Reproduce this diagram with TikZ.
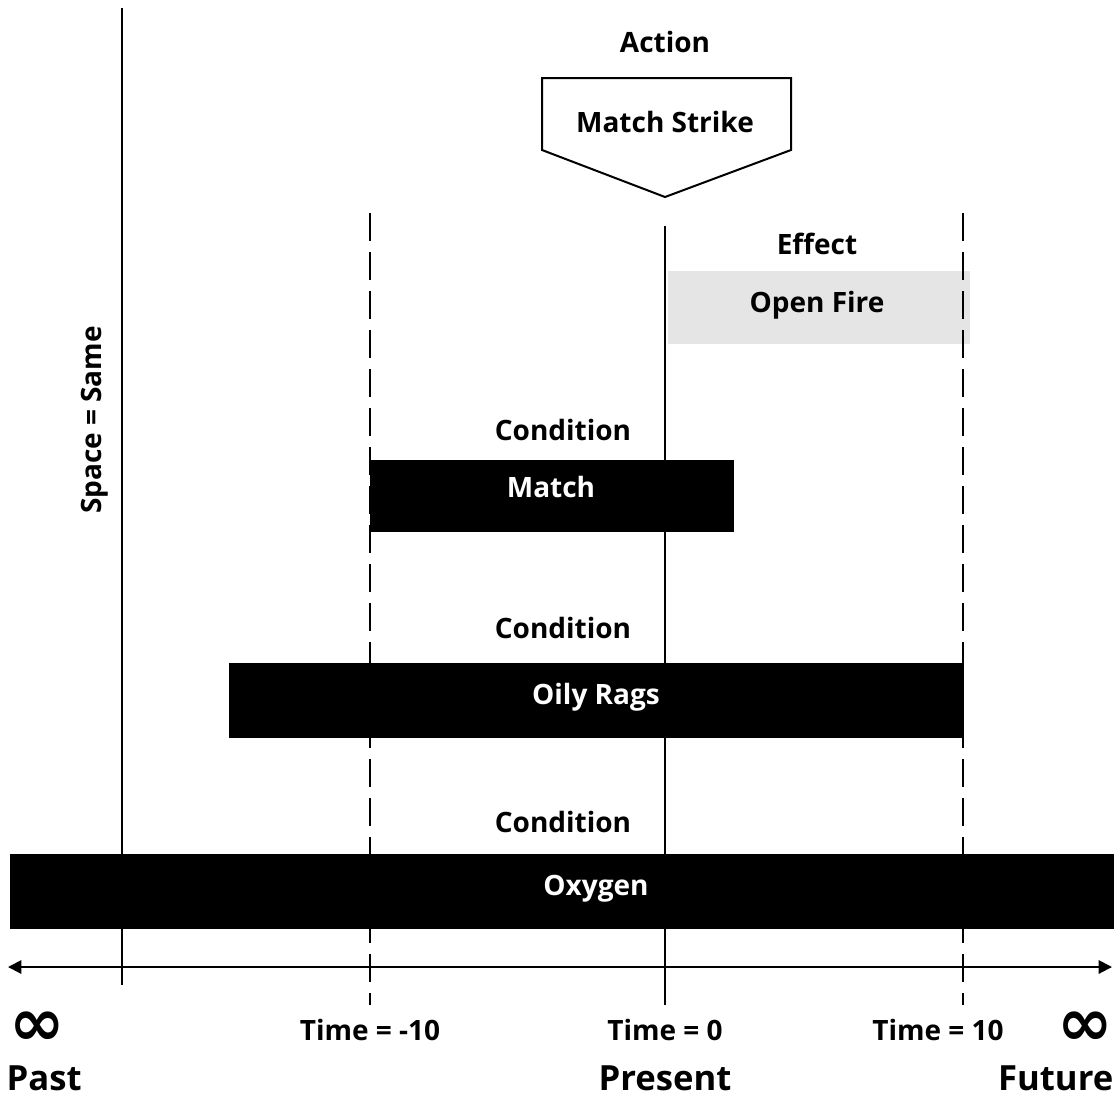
\documentclass[tikz,border=0pt]{standalone}
\usepackage{fontspec}
\setmainfont{Open Sans}
\newfontfamily\symfont{DejaVu Sans}
\usetikzlibrary{arrows.meta}

\tikzset{
  lbl/.style={font=\bfseries\fontsize{21}{24}\selectfont},
  bigword/.style={font=\bfseries\fontsize{26}{30}\selectfont},
  barlbl/.style={lbl, text=white},
  dashline/.style={line width=1.5pt, dash pattern=on 21pt off 8.25pt},
  solidline/.style={line width=1.5pt},
  inf/.style={font=\symfont\bfseries\fontsize{50}{54}\selectfont, inner sep=0pt}
}

\begin{document}
\begin{tikzpicture}[x=0.75pt,y=-0.75pt]
\useasboundingbox (0,0) rectangle (1114,1097);

% time marks
\coordinate (past) at (8,967);
\coordinate (future) at (1112,967);

% bars
\fill[black!10] (668,271) rectangle (970,344);
\fill[black] (370,460) rectangle (734,532);
\fill[black] (229,663) rectangle (964,738);
\fill[black] (10,854) rectangle (1114,929);

% verticals
\draw[solidline] (122,8) -- (122,985);
\draw[solidline] (665,226) -- (665,1005);
\draw[dashline] (370,213) -- (370,1005);
\draw[dashline] (963,213) -- (963,1005);

% axis
\draw[solidline, {Triangle[length=10pt,width=10pt]}-{Triangle[length=10pt,width=10pt]}] (past) -- (future);

% action
\node[lbl] (action) at (665,42) {Action};
\draw[line width=1.5pt] (542,78) -- (791,78) -- (791,150) -- (665,197) -- (542,150) -- cycle;
\node[lbl] (strike) at (665,122) {Match Strike};

% effect
\node[lbl] (effect) at (817,244) {Effect};
\node[lbl] (fire) at (817,305) {Open Fire};

% conditions
\node[lbl] (cond1) at (563,430) {Condition};
\node[barlbl] (match) at (551,487) {Match};
\node[lbl] (cond2) at (563,628) {Condition};
\node[barlbl] (rags) at (596,697) {Oily Rags};
\node[lbl] (cond3) at (563,822) {Condition};
\node[barlbl] (oxygen) at (596,889) {Oxygen};

% space
\node[lbl, rotate=90] (space) at (95,420) {Space = Same};

% time labels
\node[lbl] (tm10) at (370,1030) {Time = -10};
\node[lbl] (t0) at (665,1030) {Time = 0};
\node[lbl] (t10) at (938,1030) {Time = 10};
\node[inf] (infl) at (37,1029) {∞};
\node[inf] (infr) at (1085,1029) {∞};

\node[bigword, anchor=west] (pastw) at (2,1078) {Past};
\node[bigword] (present) at (665,1078) {Present};
\node[bigword, anchor=east] (futurew) at (1118,1078) {Future};
\end{tikzpicture}
\end{document}
